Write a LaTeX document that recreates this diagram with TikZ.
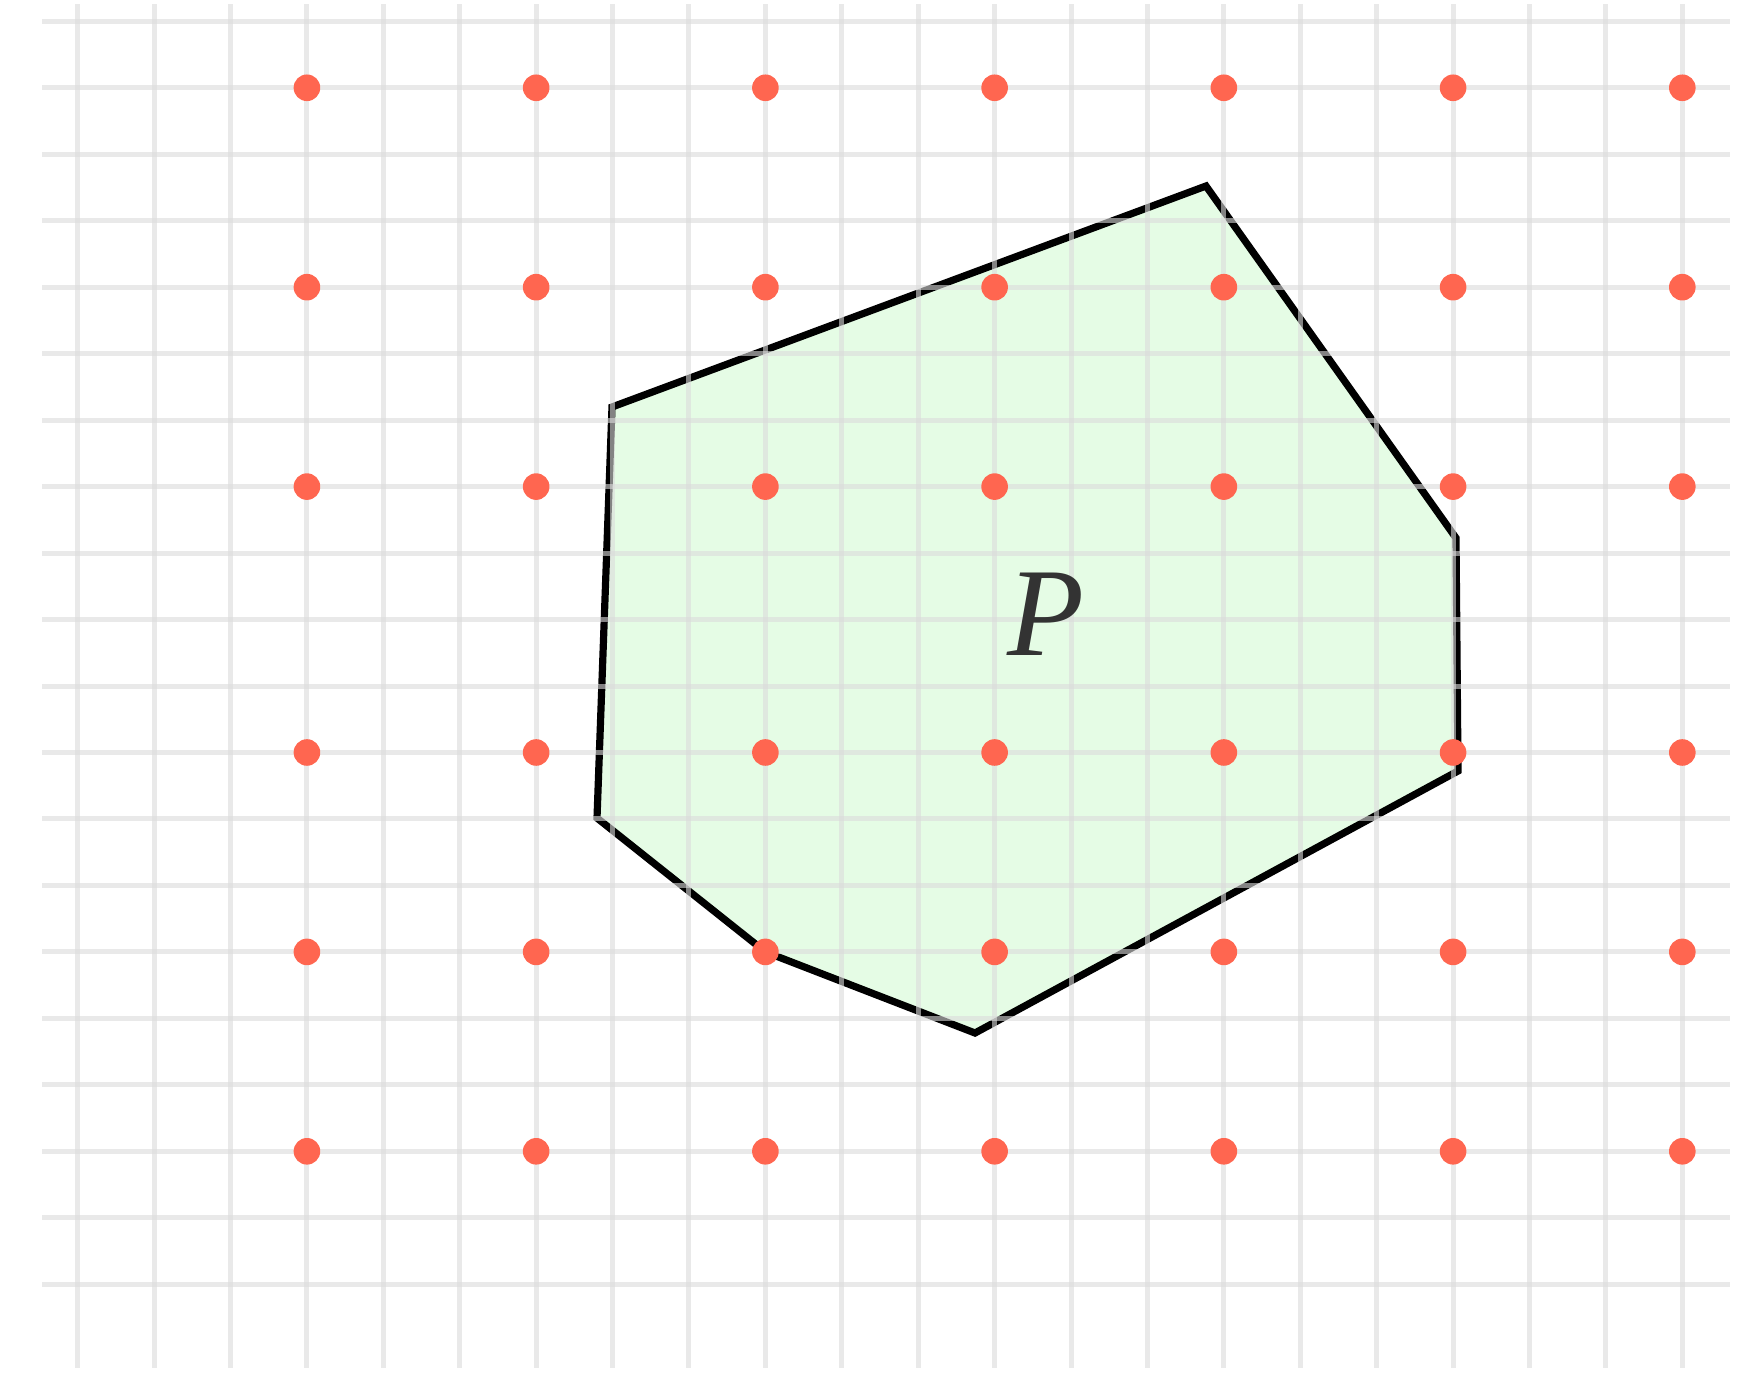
\documentclass[tikz,border=0pt]{standalone}
\usepackage{fontspec}
\setmainfont{Liberation Serif}
\definecolor{gridgray}{RGB}{219,219,219}
\definecolor{dotred}{RGB}{255,102,80}
\definecolor{polyfill}{RGB}{229,252,229}
\definecolor{labelgray}{RGB}{51,51,51}

\begin{document}
\begin{tikzpicture}[x=0.5pt,y=-0.5pt,
	gridline/.style={draw=gridgray,line width=2.5pt,opacity=0.6},
	latt/.style={circle,fill=dotred,inner sep=0pt,minimum size=13.3pt},
	hull/.style={draw=black,fill=polyfill,line width=3.6pt,line join=miter}]
	\useasboundingbox (0,0) rectangle (1757,1372);
	% polygon P
	\coordinate (v1) at (612,407);
	\coordinate (v2) at (1206,186);
	\coordinate (v3) at (1456,538);
	\coordinate (v4) at (1458,771);
	\coordinate (v5) at (975,1033);
	\coordinate (v6) at (765.4,951.9);
	\coordinate (v7) at (597,818);
	\filldraw[hull] (v1) -- (v2) -- (v3) -- (v4) -- (v5) -- (v6) -- (v7) -- cycle;
	% grid
	\foreach \i in {0,...,21}
		\draw[gridline] ({77.7+\i*76.41},4) -- ({77.7+\i*76.41},1368);
	\foreach \j in {0,...,19}
		\draw[gridline] (42,{21.3+\j*66.47}) -- (1730,{21.3+\j*66.47});
	% lattice points
	\foreach \i in {3,6,...,21}
		\foreach \j in {1,4,7,11,14,17}
			\node[latt] (d-\i-\j) at ({77.7+\i*76.41},{21.3+\j*66.47}) {};
	\node[labelgray,inner sep=0pt,font=\fontsize{63}{63}\selectfont\itshape] (lbl) at (1046,614) {P};
\end{tikzpicture}
\end{document}
